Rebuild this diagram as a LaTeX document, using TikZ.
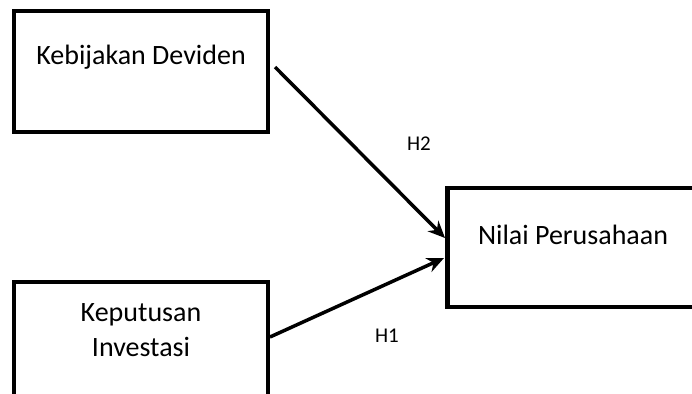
\documentclass[tikz,border=0pt]{standalone}
\usepackage{fontspec}
\setmainfont{Carlito}
\usetikzlibrary{arrows.meta}
\begin{document}
\begin{tikzpicture}[x=1pt,y=-1pt,
  boxline/.style={line width=4.5pt, line cap=round},
  conn/.style={line width=3.5pt, -{Stealth[length=17pt,width=15pt]}},
  boxtext/.style={font=\fontsize{28}{35}\selectfont, align=center},
  hyp/.style={font=\fontsize{21}{25}\selectfont}]
\useasboundingbox (0,0) rectangle (692,393);
\clip (0,0) rectangle (692,393);
% boxes
\draw[boxline] (14,11) rectangle (268,132);
\node[boxtext] (kd) at (141,57) {Kebijakan Deviden};
\draw[boxline] (14,400) -- (14,282) -- (268,282) -- (268,400);
\node[boxtext] (ki) at (141,330) {Keputusan\\Investasi};
\draw[boxline] (700,188) -- (447.5,188) -- (447.5,307) -- (700,307);
\node[boxtext] (np) at (573,235) {Nilai Perusahaan};
% connector endpoints
\coordinate (a1) at (275,67);
\coordinate (b1) at (445,238);
\coordinate (a2) at (270,337);
\coordinate (b2) at (444,258);
\draw[conn] (a1) -- (b1);
\draw[conn] (a2) -- (b2);
\node[hyp] (h2) at (419,144) {H2};
\node[hyp] (h1) at (387,336) {H1};
\end{tikzpicture}
\end{document}
